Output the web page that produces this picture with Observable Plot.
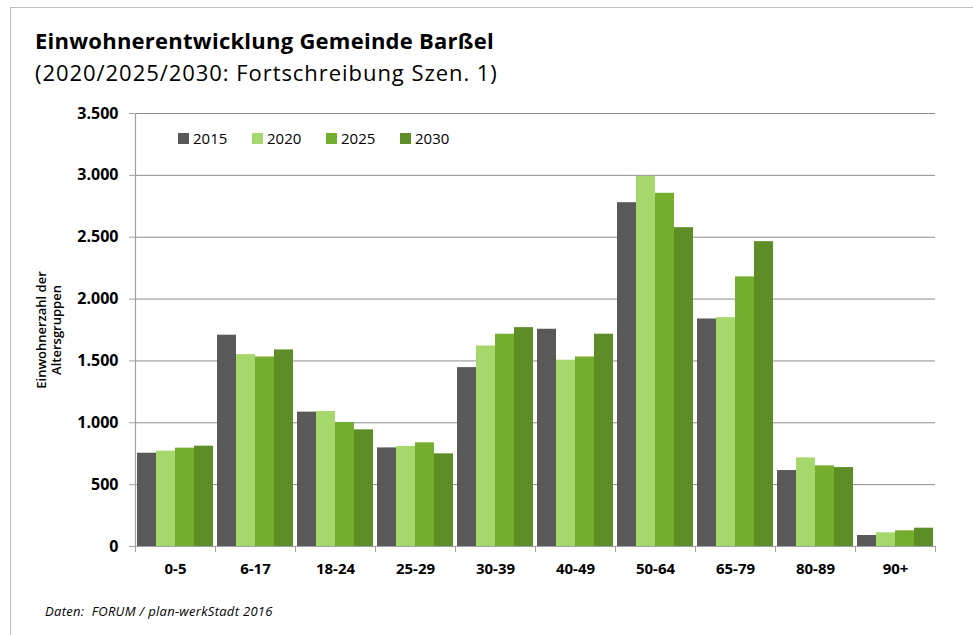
<!DOCTYPE html>
<html>
<head>
<meta charset="utf-8">
<script src="https://cdn.jsdelivr.net/npm/d3@7"></script>
<script src="https://cdn.jsdelivr.net/npm/@observablehq/plot@0.6"></script>
<style>
  html, body { margin: 0; padding: 0; background: #fff; }
  #wrap { position: relative; width: 973px; height: 635px; overflow: hidden; font-family: "Open Sans", sans-serif; color: #000; }
  #frame { position: absolute; left: 10px; top: 7px; width: 980px; height: 700px; border-left: 1.5px solid #bdbdbd; border-top: 1.5px solid #bdbdbd; }
  #title { position: absolute; left: 35px; top: 24.5px; font-size: 22px; letter-spacing: 0.25px; font-weight: bold; white-space: nowrap; line-height: normal; }
  #subtitle { position: absolute; left: 35px; top: 57px; font-size: 22px; letter-spacing: 0.95px; white-space: nowrap; line-height: normal; }
  #caption { position: absolute; left: 45px; top: 602px; font-size: 13px; letter-spacing: 0.3px; font-style: italic; white-space: nowrap; line-height: normal; }
  #chart { position: absolute; left: 0; top: 0; }
  #legend { position: absolute; left: 178px; top: 128px; display: flex; font-size: 15px; }
  .item { display: flex; align-items: center; width: 74px; }
  .sw { width: 11px; height: 11px; margin-right: 4px; }
</style>
</head>
<body>
<div id="wrap">
  <div id="frame"></div>
  <div id="chart"></div>
  <div id="title">Einwohnerentwicklung Gemeinde Barßel</div>
  <div id="subtitle">(2020/2025/2030: Fortschreibung Szen. 1)</div>
  <div id="legend"></div>
  <div id="caption">Daten:&nbsp; FORUM / plan-werkStadt 2016</div>
</div>
<script>
const ages = ["0-5","6-17","18-24","25-29","30-39","40-49","50-64","65-79","80-89","90+"];
const years = ["2015","2020","2025","2030"];
const colors = ["#595959","#a6d76c","#74ae2f","#5c8d26"];
const v2015 = [754,1708,1086,797,1446,1756,2779,1839,614,89];
const v2020 = [771,1551,1091,808,1621,1506,2992,1850,716,111];
const v2025 = [795,1532,1002,838,1716,1532,2855,2179,652,127];
const v2030 = [811,1589,943,749,1769,1716,2577,2464,638,148];
const yTicks = [0,500,1000,1500,2000,2500,3000,3500];
const yLabel = "Einwohnerzahl der\nAltersgruppen";

const series = {"2015": v2015, "2020": v2020, "2025": v2025, "2030": v2030};
const data = [];
ages.forEach((a, i) => years.forEach(y => data.push({age: a, year: y, value: series[y][i]})));

const de = d3.formatLocale({decimal: ",", thousands: ".", grouping: [3], currency: ["", " €"]});
const fmt = de.format(",");

const W = 973, H = 635, mT = 113, mB = 89, mL = 134, mR = 38;
const plotH = H - mT - mB;

const chart = Plot.plot({
  width: W, height: H,
  marginTop: mT, marginBottom: mB, marginLeft: mL, marginRight: mR,
  style: {fontFamily: "'Open Sans', sans-serif", color: "#000", background: "transparent"},
  fx: {domain: ages, padding: 0, label: null, axis: null},
  x: {domain: years, paddingInner: 0, paddingOuter: 0.1, axis: null},
  y: {domain: [0, 3500], label: null, axis: null},
  color: {domain: years, range: colors},
  marks: [
    Plot.ruleY(yTicks.slice(1), {stroke: "#8c8c8c", strokeWidth: 1}),
    Plot.barY(data, {fx: "age", x: "year", y: "value", fill: "year", inset: 0}),
    Plot.ruleY([0], {stroke: "#a0a0a0", strokeWidth: 1.2}),
    Plot.frame({anchor: "left", insetTop: plotH, insetBottom: -5, stroke: "#a0a0a0"}),
    Plot.frame({anchor: "right", insetTop: plotH, insetBottom: -5, stroke: "#a0a0a0"}),
    Plot.frame({anchor: "left", facet: "super", stroke: "#a0a0a0", strokeWidth: 1.2}),
    Plot.axisY({ticks: yTicks, tickFormat: fmt, tickSize: 6, tickPadding: 11, fontSize: 16, fontWeight: "bold", stroke: "#a0a0a0", label: null}),
    Plot.axisFx({anchor: "bottom", tickSize: 0, tickPadding: 17, fontSize: 15, fontWeight: "bold", label: null}),
    Plot.text([yLabel], {frameAnchor: "left", textAnchor: "middle", lineAnchor: "middle", rotate: -90, dx: -87, fontSize: 13, fontWeight: 600, lineHeight: 1.2, facet: "super"})
  ]
});
document.getElementById("chart").appendChild(chart);

const legend = document.getElementById("legend");
years.forEach((y, i) => {
  const it = document.createElement("div");
  it.className = "item";
  const sw = document.createElement("span");
  sw.className = "sw";
  sw.style.background = colors[i];
  const t = document.createElement("span");
  t.textContent = y;
  it.appendChild(sw); it.appendChild(t);
  legend.appendChild(it);
});
</script>
</body>
</html>
